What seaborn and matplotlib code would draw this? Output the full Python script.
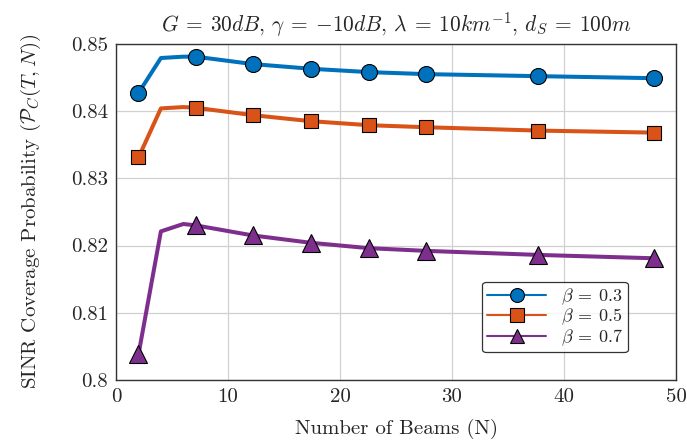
import numpy as np
import pandas as pd
import matplotlib
matplotlib.use('Agg')
import matplotlib.pyplot as plt
import seaborn as sns

# Data (line vertices; markers only at some of them)
beams = [2, 4, 6, 7.1, 12.2, 17.4, 22.6, 27.7, 37.7, 48]
cov_b03 = [0.8427, 0.8479, 0.8481, 0.8481, 0.8470, 0.8463, 0.8458, 0.8455, 0.8452, 0.8449]
cov_b05 = [0.8331, 0.8404, 0.8406, 0.8405, 0.8394, 0.8385, 0.8379, 0.8376, 0.8371, 0.8368]
cov_b07 = [0.8038, 0.8221, 0.8232, 0.8230, 0.8215, 0.8204, 0.8196, 0.8192, 0.8186, 0.8181]
mark_idx = [0, 3, 4, 5, 6, 7, 8, 9]

labels = [r'$\beta\:=\:0.3$', r'$\beta\:=\:0.5$', r'$\beta\:=\:0.7$']
colors = ['#0072BD', '#D95319', '#7E2F8E']
markers = ['o', 's', '^']
msizes = [11.5, 10.5, 12.5]

x_ticks = [0, 10, 20, 30, 40, 50]
y_ticks = [0.80, 0.81, 0.82, 0.83, 0.84, 0.85]
y_ticklabels = ['0.8', '0.81', '0.82', '0.83', '0.84', '0.85']

df = pd.DataFrame({'N': beams * 3,
                   'cov': cov_b03 + cov_b05 + cov_b07,
                   'beta': [labels[0]] * len(beams) + [labels[1]] * len(beams) + [labels[2]] * len(beams)})

sns.set_style('white')
plt.rcParams['font.family'] = 'serif'
plt.rcParams['font.serif'] = ['cmr10']
plt.rcParams['mathtext.fontset'] = 'cm'
plt.rcParams['axes.formatter.use_mathtext'] = True

fig = plt.figure(figsize=(6.87, 4.48), dpi=100)
ax = fig.add_axes([0.169, 0.152, 0.815, 0.75])

for lab, col, mk, ms in zip(labels, colors, markers, msizes):
    sub = df[df['beta'] == lab]
    sns.lineplot(data=sub, x='N', y='cov', ax=ax, color=col, linewidth=2.9,
                 marker=mk, markersize=ms, markevery=mark_idx,
                 markeredgecolor='black', markeredgewidth=0.8, label=lab)

ax.set_xlim(0, 50)
ax.set_ylim(0.80, 0.85)
ax.set_xticks(x_ticks)
ax.set_xticklabels([str(t) for t in x_ticks])
ax.set_yticks(y_ticks)
ax.set_yticklabels(y_ticklabels)
ax.tick_params(labelsize=15, length=0, pad=6)
ax.grid(True, color='#d0d0d0', linewidth=0.9)
for s in ax.spines.values():
    s.set_color('#333333')
    s.set_linewidth(1.0)

ax.set_xlabel('Number of Beams (N)', fontsize=15, labelpad=9)
ax.set_ylabel(r'SINR Coverage Probability ($\mathcal{P}_C(T,N)$)', fontsize=15, labelpad=20)
ax.set_title(r'$G\:=\:30dB$, $\gamma\:=\:{-10}dB$, $\lambda\:=\:10km^{-1}$, $d_S\:=\:100m$',
             fontsize=15.4, pad=9)

leg = ax.legend(loc='lower right', bbox_to_anchor=(0.93, 0.055), fontsize=13, frameon=True,
                fancybox=True, edgecolor='black', handlelength=3.3, labelspacing=0.0,
                borderpad=0.25, handletextpad=0.8)
leg.get_frame().set_linewidth(0.9)
for h in leg.legend_handles:
    h.set_linewidth(1.5)
    h.set_markersize(10)

fig.savefig('out.png', dpi=100)
